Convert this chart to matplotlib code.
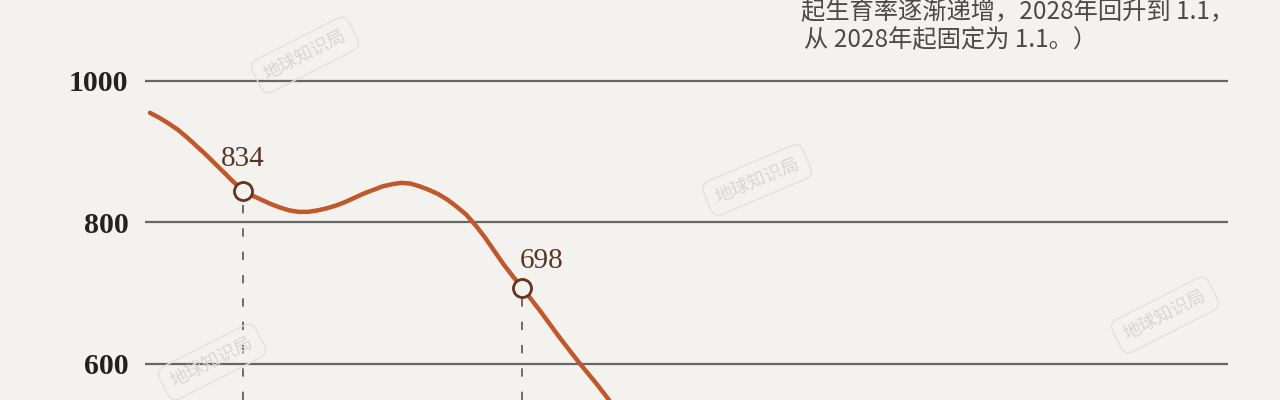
import matplotlib.pyplot as plt

# population curve (x = year, y = value)
years = list(range(2020, 2071))
values = [955, 948, 940, 931, 920, 908, 896, 883, 870, 857,
          845, 838, 832, 826, 821, 817, 815, 815, 817, 820,
          824, 829, 835, 841, 846, 851, 854, 856, 855, 851,
          846, 840, 832, 822, 811, 796, 779, 760, 741, 724,
          708, 691, 674, 656, 638, 621, 604, 588, 572, 555,
          537]

mark_years = [2030, 2060]
mark_labels = ["834", "698"]
label_offsets = [(0, 23), (14, 19)]  # points

yticks = [600, 800, 1000]
note_lines = ["起生育率逐渐递增，2028年回升到 1.1，", "从 2028年起固定为 1.1。）"]
watermark = "地球知识局"

bg = "#f3f2ef"
line_color = "#c0582b"

fig = plt.figure(figsize=(12.8, 4), dpi=100, facecolor=bg)
ax = fig.add_axes([145 / 1280, 0, (1228 - 145) / 1280, 1])
ax.set_facecolor(bg)
ax.set_xlim(2019.46, 2135.9)
ax.set_ylim(549, 1114.5)

ax.set_yticks(yticks)
ax.set_yticklabels([str(t) for t in yticks], fontfamily="Liberation Serif",
                   fontweight="bold", fontsize=21.5, color="#222222")
ax.set_xticks([])
ax.tick_params(axis="y", length=0, pad=12)
for s in ax.spines.values():
    s.set_visible(False)
ax.grid(axis="y", color="#666666", lw=1.6, zorder=1)

ax.plot(years, values, color=line_color, lw=3.2, solid_capstyle="round",
        solid_joinstyle="round", zorder=3)

for yr, lab, off in zip(mark_years, mark_labels, label_offsets):
    val = values[years.index(yr)]
    ax.plot([yr, yr], [549, val], color="#555555", lw=1.2,
            linestyle=(0, (5, 9)), zorder=2)
    ax.plot([yr], [val], marker="o", ms=13, mfc=bg, mec="#6a3020", mew=2, zorder=4)
    ax.annotate(lab, (yr, val), xytext=off, textcoords="offset points",
                ha="center", va="center", fontfamily="Liberation Serif",
                fontsize=21, color="#5a3328", zorder=5)

# note text at top right (cut off in the crop)
note_font = ["Noto Sans CJK SC", "DejaVu Sans"]
fig.text(801 / 1280, 1 - 12 / 400, note_lines[0], ha="left", va="center",
         fontfamily=note_font, fontsize=17.5, color="#4a4a4a")
fig.text(804 / 1280, 1 - 40 / 400, note_lines[1], ha="left", va="center",
         fontfamily=note_font, fontsize=17.5, color="#4a4a4a")

# faint watermarks
for px, py, rot in [(305, 55, 27), (757, 180, 23), (1165, 315, 27), (212, 362, 27)]:
    fig.text(px / 1280, 1 - py / 400, watermark, ha="center", va="center",
             rotation=rot, fontfamily="Noto Sans CJK SC", fontsize=13,
             color="#d6d6d6", zorder=0,
             bbox=dict(boxstyle="round,pad=0.5", fc="none", ec="#e2e2e2", lw=1))

plt.savefig("out.png", facecolor=bg)
